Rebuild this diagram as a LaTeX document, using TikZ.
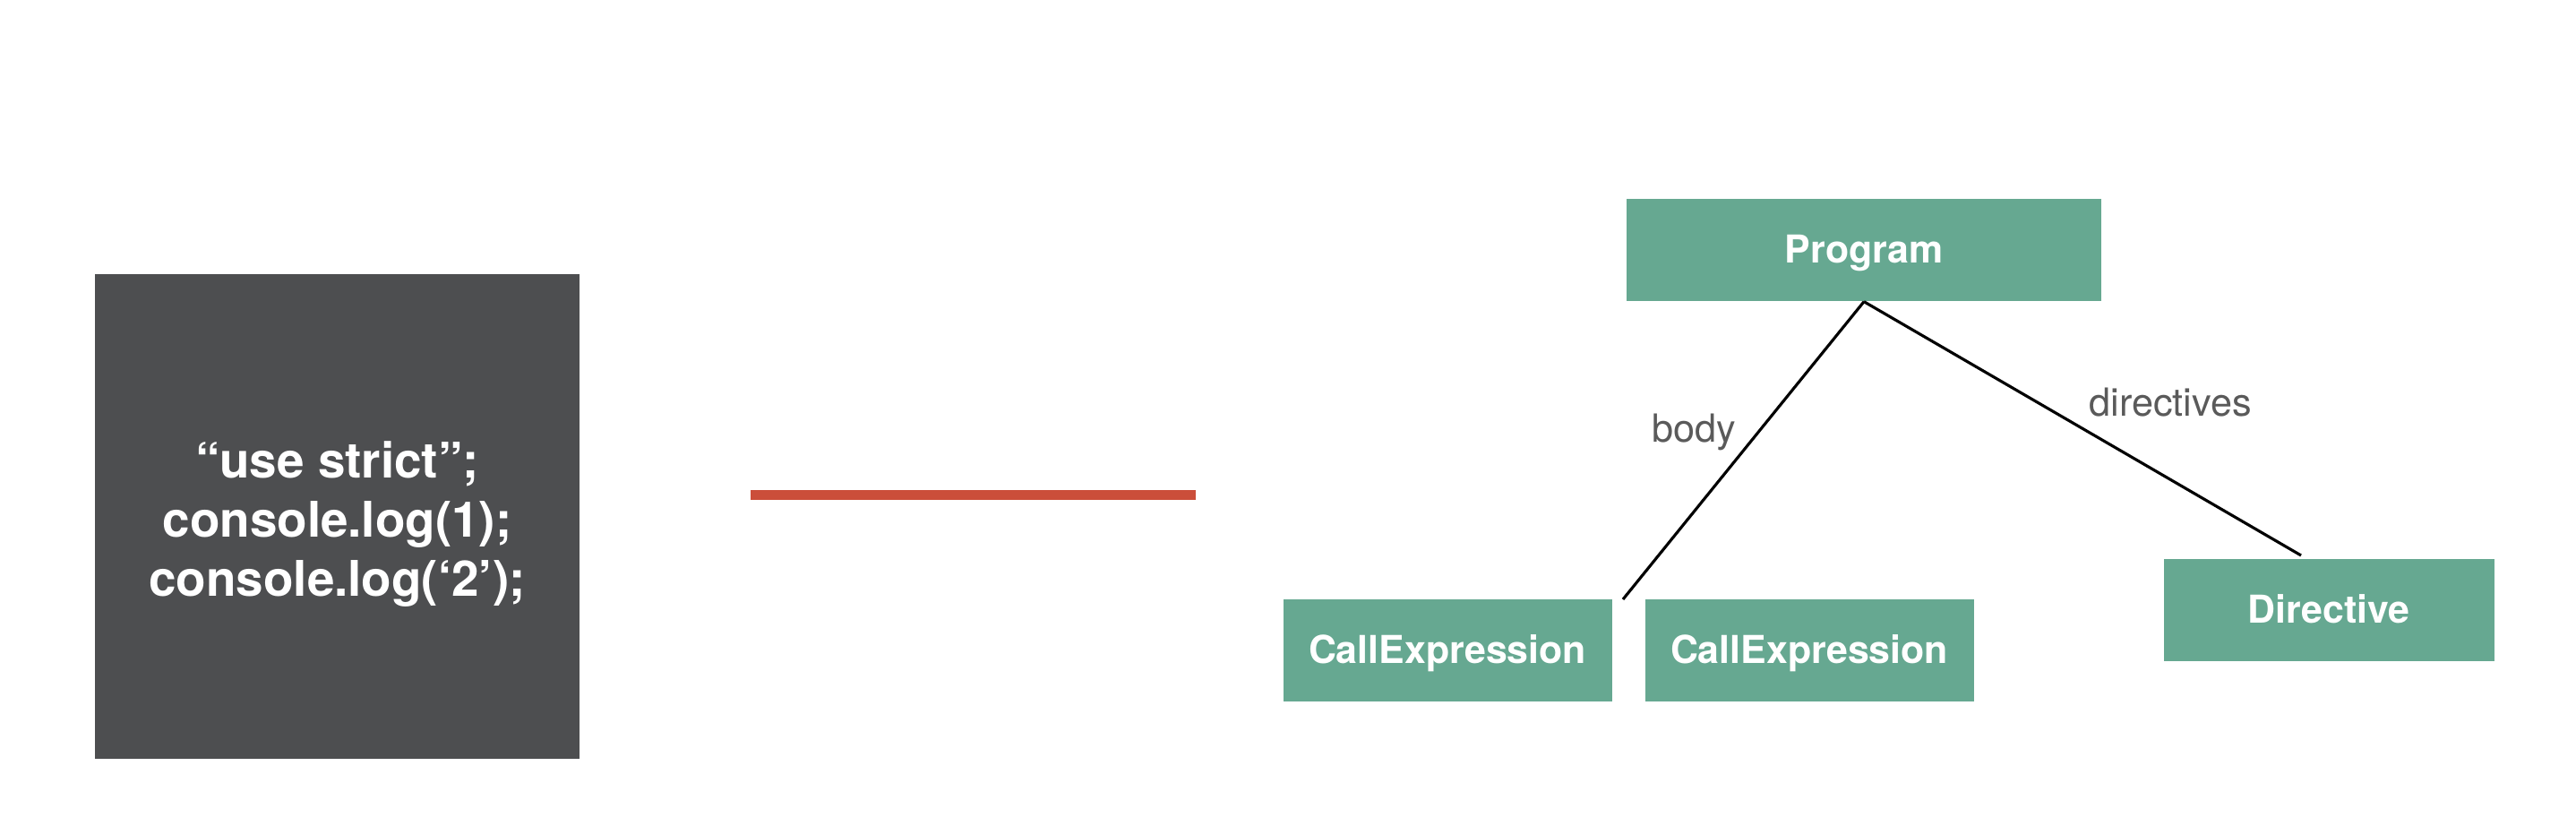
\documentclass[tikz,border=0pt]{standalone}
\usepackage{fontspec}
\setmainfont{TeX Gyre Heros}
\definecolor{astgreen}{RGB}{102,168,145}
\definecolor{codegray}{RGB}{77,78,80}
\definecolor{labelgray}{RGB}{90,90,90}
\definecolor{crayonred}{RGB}{203,78,58}

\begin{document}
\begin{tikzpicture}
  [ast node/.style={rectangle,fill=astgreen,text=white,font=\fontsize{12.2}{14}\selectfont\bfseries,minimum height=1.14cm,inner sep=0pt,text height=9pt,text depth=0.6pt},
   code box/.style={rectangle,fill=codegray,minimum width=5.41cm,minimum height=5.41cm},
   code text/.style={text=white,align=center,font=\fontsize{15.6}{18.9}\selectfont\bfseries},
   edge label/.style={text=labelgray,font=\fontsize{12.3}{14}\selectfont}]
  \useasboundingbox (0,0) rectangle (28.76,9.22);

  \node[code box] (src) at (3.765,3.455) {};
  \node[code text] (srctext) at (3.765,3.37) {“use strict”;\\console.log(1);\\console.log(‘2’);};

  \coordinate (r0) at (8.38,3.69);
  \coordinate (r1) at (13.35,3.69);
  \draw[crayonred, line width=0.11cm] (r0) -- (r1);

  \node[ast node, minimum width=5.30cm] (prog) at (20.81,6.43) {Program};
  \node[ast node, minimum width=3.67cm] (ce1) at (16.16,1.96) {CallExpression};
  \node[ast node, minimum width=3.67cm] (ce2) at (20.20,1.96) {CallExpression};
  \node[ast node, minimum width=3.69cm] (dir) at (26.00,2.41) {Directive};

  \coordinate (bodyend) at (18.12,2.53);
  \coordinate (dirend) at (25.69,3.02);

  \path[] (prog.south) [-, line width=0.9pt] edge node [] {} (bodyend);
  \path[] (prog.south) [-, line width=0.9pt] edge node [] {} (dirend);

  \node[edge label] (lbody) at (18.91,4.40) {body};
  \node[edge label] (ldir) at (24.23,4.73) {directives};
\end{tikzpicture}
\end{document}
